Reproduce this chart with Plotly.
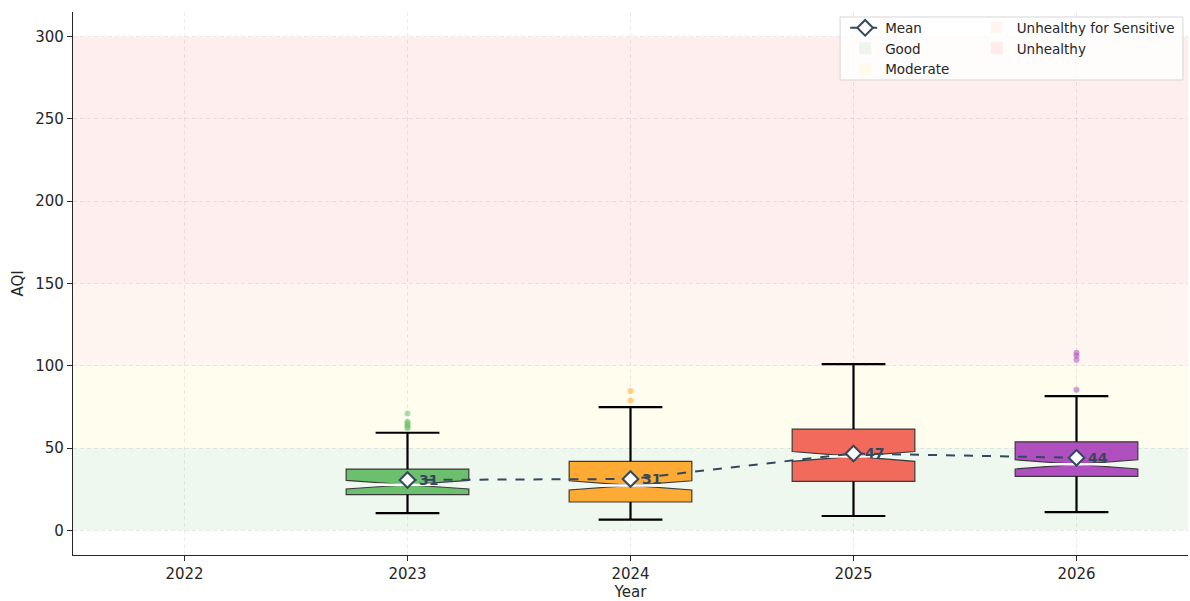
import plotly.graph_objects as go

years = [2023, 2024, 2025, 2026]
box_colors = ['#6cbf6c', '#fdab35', '#f26a5c', '#b04fc0']
q1 = [21.7, 17.2, 29.8, 32.8]
median = [27.7, 27.3, 44.9, 40.1]
q3 = [37.2, 41.9, 61.5, 53.8]
whisker_low = [10.5, 6.5, 8.7, 11.1]
whisker_high = [59.3, 74.9, 101.0, 81.6]
notch_span = [2.6, 2.8, 3.0, 2.8]
means = [30.6, 31.2, 46.7, 44.1]
outliers = [
    [71.0, 66.0, 65.0, 64.0, 63.0, 62.0],
    [84.6, 78.9],
    [],
    [107.9, 106.3, 103.6, 85.4],
]
x_ticks = [2022, 2023, 2024, 2025, 2026]
y_ticks = [0, 50, 100, 150, 200, 250, 300]
bands = [
    ("Good", 0, 50, "rgba(76,175,80,0.09)", "legend"),
    ("Moderate", 50, 100, "rgba(255,235,59,0.09)", "legend"),
    ("Unhealthy for Sensitive", 100, 150, "rgba(255,120,40,0.07)", "legend2"),
    ("Unhealthy", 150, 300, "rgba(244,67,54,0.09)", "legend2"),
]

BOX_W = 0.55
CAP_HALF = 0.143
WAIST_HALF = 0.1375
FONT = "DejaVu Sans"
TXT = '#262626'
MEAN_COL = '#34495e'

fig = go.Figure()

# boxes
for i, yr in enumerate(years):
    fig.add_trace(go.Box(
        x=[yr], q1=[q1[i]], median=[median[i]], q3=[q3[i]],
        lowerfence=[q1[i]], upperfence=[q3[i]],
        notched=True, notchspan=[notch_span[i]], notchwidth=0.5,
        width=BOX_W, fillcolor=box_colors[i],
        line=dict(color='#3a3a3a', width=1.2),
        boxpoints=False, showlegend=False, hoverinfo='skip',
    ))

# whiskers and caps
wx, wy = [], []
for i, yr in enumerate(years):
    wx += [yr, yr, None, yr, yr, None,
           yr - CAP_HALF, yr + CAP_HALF, None, yr - CAP_HALF, yr + CAP_HALF, None]
    wy += [q3[i], whisker_high[i], None, q1[i], whisker_low[i], None,
           whisker_high[i], whisker_high[i], None, whisker_low[i], whisker_low[i], None]
fig.add_trace(go.Scatter(x=wx, y=wy, mode='lines', line=dict(color='black', width=2.2),
                         showlegend=False, hoverinfo='skip'))

# median lines (white)
mx, my = [], []
for i, yr in enumerate(years):
    mx += [yr - WAIST_HALF, yr + WAIST_HALF, None]
    my += [median[i], median[i], None]
fig.add_trace(go.Scatter(x=mx, y=my, mode='lines', line=dict(color='white', width=2.5),
                         showlegend=False, hoverinfo='skip'))

# outliers
for i, yr in enumerate(years):
    if outliers[i]:
        fig.add_trace(go.Scatter(
            x=[yr] * len(outliers[i]), y=outliers[i], mode='markers',
            marker=dict(color=box_colors[i], size=6, opacity=0.55, line=dict(width=0)),
            showlegend=False, hoverinfo='skip'))

# mean line
fig.add_trace(go.Scatter(
    x=years, y=means, mode='lines+markers', name='Mean',
    line=dict(color=MEAN_COL, width=2, dash='dash'),
    marker=dict(symbol='diamond', size=12, color='white', line=dict(color=MEAN_COL, width=2)),
    legend='legend',
))

# mean labels
for yr, m in zip(years, means):
    fig.add_annotation(x=yr, y=m, text=f"<b>{m:.0f}</b>", showarrow=False,
                       xanchor='left', yanchor='middle', xshift=9,
                       font=dict(family=FONT, size=14, color=MEAN_COL))

# bands
for name, lo, hi, col, lg in bands:
    fig.add_shape(type='rect', xref='paper', x0=0, x1=1, yref='y', y0=lo, y1=hi,
                  fillcolor=col, line=dict(width=0), layer='below',
                  showlegend=True, name=name, legend=lg)

# legend frame
fig.add_shape(type='rect', xref='paper', yref='paper', x0=0.688, x1=0.9955, y0=0.8748, y1=0.9908,
              fillcolor='rgba(255,255,255,0.8)', line=dict(color='#d6d6d6', width=1), layer='above')

leg_common = dict(
    orientation='v', yanchor='top', xanchor='left',
    bgcolor='rgba(0,0,0,0)', borderwidth=0,
    font=dict(family=FONT, size=13.5, color=TXT),
    tracegroupgap=0, itemwidth=30,
)

fig.update_layout(
    width=1190, height=601,
    margin=dict(l=73, r=2, t=12, b=46),
    paper_bgcolor='white', plot_bgcolor='white',
    font=dict(family=FONT, size=15, color=TXT),
    boxmode='overlay',
    legend=dict(x=0.6925, y=0.999, **leg_common),
    legend2=dict(x=0.8105, y=0.999, **leg_common),
    xaxis=dict(
        range=[2021.5, 2026.5], tickmode='array', tickvals=x_ticks,
        ticktext=[str(t) for t in x_ticks], automargin=False,
        title=dict(text='Year', standoff=9, font=dict(size=15)),
        showgrid=True, gridcolor='rgba(0,0,0,0.08)', griddash='4px,3px', gridwidth=1,
        showline=True, linecolor=TXT, linewidth=1.2,
        ticks='outside', ticklen=5, tickcolor=TXT, zeroline=False,
    ),
    yaxis=dict(
        range=[-15, 315], tickmode='array', tickvals=y_ticks, automargin=False,
        title=dict(text='AQI', standoff=8, font=dict(size=15)),
        showgrid=True, gridcolor='rgba(0,0,0,0.08)', griddash='4px,3px', gridwidth=1,
        showline=True, linecolor=TXT, linewidth=1.2,
        ticks='outside', ticklen=5, tickcolor=TXT, zeroline=False,
    ),
)

fig.write_html(
    "out.html",
    config={"displayModeBar": False},
    post_script="document.body.style.margin='0';document.body.style.overflow='hidden';",
)
